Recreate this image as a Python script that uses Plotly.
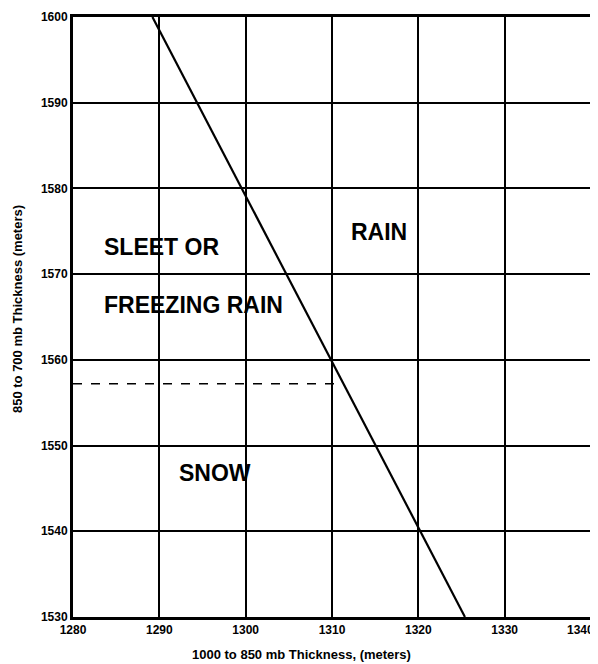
import plotly.graph_objects as go

# Dividing line between rain and snow / sleet (1000-850 vs 850-700 thickness)
line_x = [1289.2, 1325.4]
line_y = [1600, 1530]

# Dashed line marking the snow / sleet boundary
dash_x = [1280, 1311.3]
dash_y = [1557.2, 1557.2]

# Region labels
label_text = ["SLEET OR", "FREEZING RAIN", "RAIN", "SNOW"]
label_x = [1283.4, 1283.4, 1312.0, 1292.0]
label_y = [1573.2, 1566.4, 1574.9, 1546.8]

x_ticks = [1280, 1290, 1300, 1310, 1320, 1330, 1340]
y_ticks = [1530, 1540, 1550, 1560, 1570, 1580, 1590, 1600]

FONT = "Liberation Sans, Arial, sans-serif"

fig = go.Figure()

fig.add_trace(go.Scatter(
    x=line_x, y=line_y, mode="lines",
    line=dict(color="black", width=2.2),
    showlegend=False, hoverinfo="skip",
))

fig.add_trace(go.Scatter(
    x=dash_x, y=dash_y, mode="lines",
    line=dict(color="black", width=1.5, dash="dash"),
    showlegend=False, hoverinfo="skip",
))

for txt, x, y in zip(label_text, label_x, label_y):
    fig.add_annotation(
        x=x, y=y, text="<b>%s</b>" % txt, showarrow=False,
        xanchor="left", yanchor="middle",
        font=dict(family=FONT, size=23, color="black"),
    )

# axis titles placed as annotations to match the original layout
fig.add_annotation(
    x=(301 - 73) / 518, y=-0.063, xref="paper", yref="paper",
    text="<b>1000 to 850 mb Thickness, (meters)</b>", showarrow=False,
    xanchor="center", yanchor="middle",
    font=dict(family=FONT, size=13, color="black"),
)
fig.add_annotation(
    x=-0.108, y=(617 - 309) / 600, xref="paper", yref="paper",
    text="<b>850 to 700 mb Thickness (meters)</b>", showarrow=False,
    textangle=-90, xanchor="center", yanchor="middle",
    font=dict(family=FONT, size=13, color="black"),
)

# last x tick label sits at the right edge; pull it in so it is not clipped
fig.add_annotation(
    x=x_ticks[-1], y=0, xref="x", yref="paper",
    text="<b>%d</b>" % x_ticks[-1], showarrow=False,
    xanchor="right", yanchor="top", xshift=5, yshift=-4,
    font=dict(family=FONT, size=12, color="black"),
)

axis_style = dict(
    showgrid=True, gridcolor="black", gridwidth=2,
    showline=True, linecolor="black", linewidth=3, mirror=True,
    zeroline=False, ticks="", automargin=False,
    tickfont=dict(family=FONT, size=12, color="black"),
)

fig.update_xaxes(
    range=[1280, 1340], tickvals=x_ticks,
    ticktext=["<b>%d</b>" % v for v in x_ticks[:-1]] + [""],
    **axis_style
)
fig.update_yaxes(
    range=[1530, 1600], tickvals=y_ticks,
    ticktext=["<b>%d</b>" % v for v in y_ticks],
    **axis_style
)

# the page body adds an 8px margin, so the figure is 8px smaller than the window
fig.update_layout(
    width=590, height=656,
    margin=dict(l=65, r=7, t=9, b=47, autoexpand=False),
    plot_bgcolor="white", paper_bgcolor="white",
    showlegend=False,
)

fig.write_html("out.html")
